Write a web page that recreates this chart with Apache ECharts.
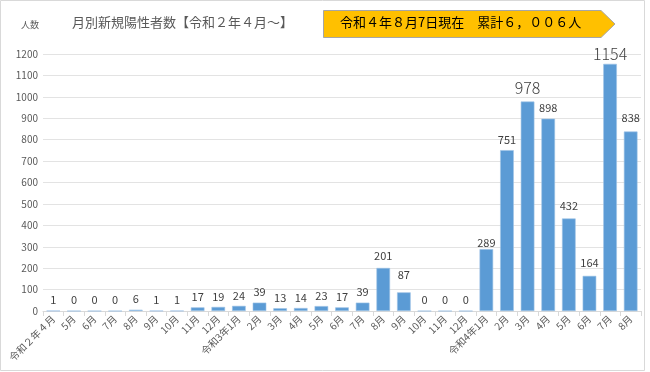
<!DOCTYPE html>
<html><head><meta charset="utf-8">
<script src="https://cdn.jsdelivr.net/npm/echarts@6/dist/echarts.min.js"></script>
<style>html,body{margin:0;padding:0;background:#fff}#c{width:650px;height:372px}</style>
</head><body><div id="c"></div>
<script>
const categories = ['令和２年４月','5月','6月','7月','8月','9月','10月','11月','12月',
  '令和3年1月','2月','3月','4月','5月','6月','7月','8月','9月','10月','11月','12月',
  '令和4年1月','2月','3月','4月','5月','6月','7月','8月'];
const cases = [1,0,0,0,6,1,1,17,19,24,39,13,14,23,17,39,201,87,0,0,0,289,751,978,898,432,164,1154,838];
const yTicks = [0,100,200,300,400,500,600,700,800,900,1000,1100,1200];
const titleText = '月別新規陽性者数【令和２年４月～】';
const unitText = '人数';
const badgeText = '令和４年８月7日現在　累計６，００６人';

// label style tweaks (not data)
const bigLabels = {23:16, 27:16};
const labelDist = {16:7, 17:12, 21:1, 24:5, 25:7, 26:8, 27:2, 28:8, 23:6};

const FONT = '"Noto Sans CJK JP", "Noto Sans", sans-serif';
const chart = echarts.init(document.getElementById('c'), null, {renderer:'canvas'});
const seriesData = cases.map((v,i)=>({
  value:v,
  label:{fontSize: bigLabels[i]||11, fontWeight: bigLabels[i]?300:'normal',
    distance: labelDist[i]!==undefined?labelDist[i]:5}
}));
chart.setOption({
  animation:false,
  textStyle:{fontFamily:FONT},
  grid:{left:43, right:9, top:54, bottom:61, containLabel:false},
  graphic:[
    {type:'rect', shape:{x:0.5,y:0.5,width:644,height:370}, style:{fill:'none', stroke:'#d9d9d9', lineWidth:1}, z:-1},
    {type:'polygon', shape:{points:[[323.5,10.5],[601,10.5],[615,24],[601,37.5],[323.5,37.5]]},
      style:{fill:'#FFC000', stroke:'#a6a6a6', lineWidth:1}},
    {type:'text', left:340, top:16, style:{text:badgeText, fill:'#000', font:'13px '+FONT}},
    {type:'text', left:72, top:16, style:{text:titleText, fill:'#595959', font:'13px '+FONT}},
    {type:'text', left:21, top:20, style:{text:unitText, fill:'#595959', font:'9px '+FONT}}
  ],
  xAxis:{
    type:'category', data:categories,
    axisLine:{lineStyle:{color:'#d9d9d9'}},
    axisTick:{show:true, length:5, lineStyle:{color:'#d9d9d9'}},
    axisLabel:{rotate:45, fontSize:10, color:'#595959', margin:6, interval:0}
  },
  yAxis:{
    type:'value', min:yTicks[0], max:yTicks[yTicks.length-1], interval:yTicks[1]-yTicks[0],
    axisLine:{show:false}, axisTick:{show:false},
    axisLabel:{fontSize:10, color:'#595959', margin:5, formatter:(v)=>String(v)},
    splitLine:{lineStyle:{color:'#e3e3e3'}}
  },
  series:[{
    type:'bar', data:seriesData, barCategoryGap:'34%',
    itemStyle:{color:'#5B9BD5', borderColor:'#9dc3e6', borderWidth:0.6},
    label:{show:true, position:'top', color:'#404040', fontFamily:FONT}
  }]
});
</script></body></html>
